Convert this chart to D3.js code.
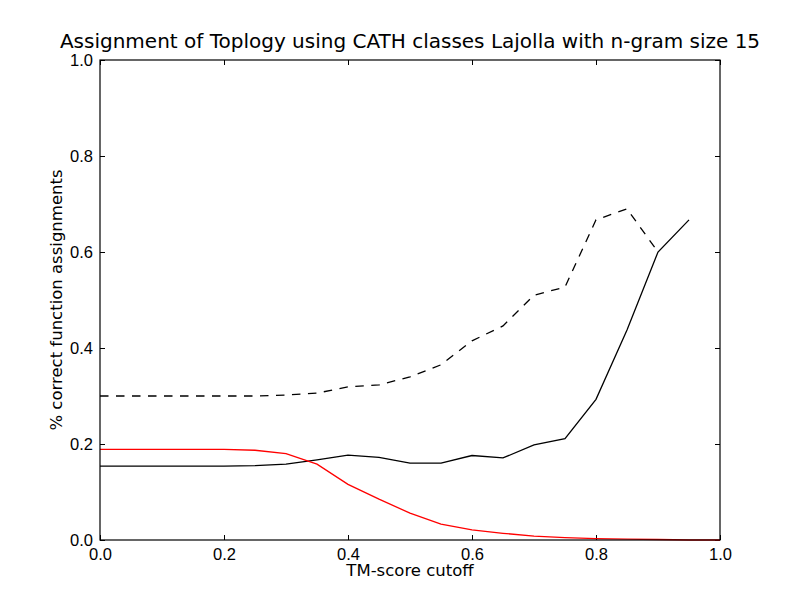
<!doctype html>
<html>
<head>
<meta charset="UTF-8">
<title>Assignment of Toplogy</title>
<style>
    body { margin: 0; background: #fff; }
    svg { display: block; font-family: "DejaVu Sans", sans-serif; }
    .axis path, .axis line { stroke: #000; }
    .axis text { font-size: 16.5px; fill: #000; }
</style>
</head>
<body>
<svg width="800" height="600"></svg>
<script src="https://cdn.jsdelivr.net/npm/d3@7"></script>
<script>
// TM-score cutoffs
const cutoffs = [0, 0.05, 0.1, 0.15, 0.2, 0.25, 0.3, 0.35, 0.4, 0.45, 0.5,
                 0.55, 0.6, 0.65, 0.7, 0.75, 0.8, 0.85, 0.9, 0.95, 1.0];

// dashed black line
const dashedValues = [0.30, 0.30, 0.30, 0.30, 0.30, 0.30, 0.302, 0.306, 0.319, 0.323, 0.34,
                      0.365, 0.415, 0.446, 0.51, 0.527, 0.667, 0.69, 0.60];
// solid black line
const solidValues = [0.154, 0.154, 0.154, 0.154, 0.154, 0.155, 0.158, 0.167, 0.177, 0.172, 0.160,
                     0.160, 0.176, 0.171, 0.198, 0.211, 0.293, 0.4375, 0.60, 0.667];
// red line
const redValues = [0.189, 0.189, 0.189, 0.189, 0.189, 0.187, 0.180, 0.158, 0.116, 0.085, 0.056,
                   0.033, 0.021, 0.014, 0.008, 0.005, 0.003, 0.002, 0.001, 0.0, 0.0];

const xTicks = [0, 0.2, 0.4, 0.6, 0.8, 1.0];
const yTicks = [0, 0.2, 0.4, 0.6, 0.8, 1.0];

const margin = { top: 60, right: 80, bottom: 60, left: 100 };
const width = 800 - margin.left - margin.right;
const height = 600 - margin.top - margin.bottom;

const svg = d3.select("svg");
const g = svg.append("g").attr("transform", `translate(${margin.left},${margin.top})`);

const x = d3.scaleLinear().domain([0, 1]).range([0, width]);
const y = d3.scaleLinear().domain([0, 1]).range([height, 0]);

const fmt = d3.format(".1f");

// axes, ticks pointing inward on every side
g.append("g").attr("class", "axis")
    .attr("transform", `translate(0,${height})`)
    .call(d3.axisBottom(x).tickValues(xTicks).tickFormat(fmt).tickSizeInner(-5).tickSizeOuter(0).tickPadding(8))
    .call(a => a.select(".domain").remove());
g.append("g").attr("class", "axis")
    .call(d3.axisLeft(y).tickValues(yTicks).tickFormat(fmt).tickSizeInner(-5).tickSizeOuter(0).tickPadding(7))
    .call(a => a.select(".domain").remove());
g.append("g").attr("class", "axis")
    .call(d3.axisTop(x).tickValues(xTicks).tickFormat("").tickSizeInner(-5).tickSizeOuter(0))
    .call(a => a.select(".domain").remove());
g.append("g").attr("class", "axis")
    .attr("transform", `translate(${width},0)`)
    .call(d3.axisRight(y).tickValues(yTicks).tickFormat("").tickSizeInner(-5).tickSizeOuter(0))
    .call(a => a.select(".domain").remove());

const line = d3.line().x(d => x(d[0])).y(d => y(d[1]));
const pairs = vals => vals.map((v, i) => [cutoffs[i], v]);

g.append("path").datum(pairs(dashedValues))
    .attr("d", line).attr("fill", "none").attr("stroke", "#000")
    .attr("stroke-width", 1.3).attr("stroke-dasharray", "8.5,7.5");
g.append("path").datum(pairs(solidValues))
    .attr("d", line).attr("fill", "none").attr("stroke", "#000").attr("stroke-width", 1.3);
g.append("path").datum(pairs(redValues))
    .attr("d", line).attr("fill", "none").attr("stroke", "#ff0000").attr("stroke-width", 1.3);

// frame
g.append("rect").attr("width", width).attr("height", height)
    .attr("fill", "none").attr("stroke", "#000").attr("stroke-width", 1.2);

// title and labels
svg.append("text").attr("x", margin.left + width / 2).attr("y", 48)
    .attr("text-anchor", "middle").style("font-size", "20px")
    .text("Assignment of Toplogy using CATH classes Lajolla with n-gram size 15");
svg.append("text").attr("x", margin.left + width / 2).attr("y", 576)
    .attr("text-anchor", "middle").style("font-size", "16.5px")
    .text("TM-score cutoff");
svg.append("text").attr("transform", `translate(62,${margin.top + height / 2}) rotate(-90)`)
    .attr("text-anchor", "middle").style("font-size", "16.5px")
    .text("% correct function assignments");
</script>
</body>
</html>
